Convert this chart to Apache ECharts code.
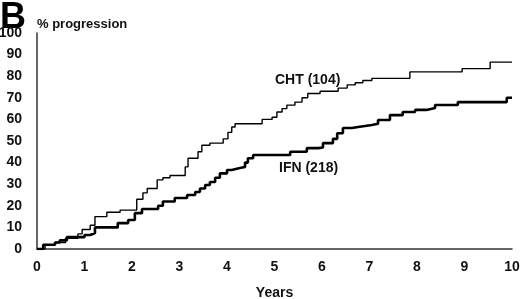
<!DOCTYPE html>
<html>
<head>
<meta charset="utf-8">
<script src="https://cdn.jsdelivr.net/npm/echarts@6/dist/echarts.min.js"></script>
<style>
  html, body { margin: 0; padding: 0; background: #fff; }
  #chart { width: 520px; height: 299px; }
</style>
</head>
<body>
<div id="chart"></div>
<script>
// years and cumulative % progression
var chtYears = [0, 0.17, 0.38, 0.6, 0.86, 0.95, 1.12, 1.22, 1.47, 1.75, 2.1, 2.23, 2.32, 2.53, 2.65, 2.8,
  3.12, 3.18, 3.39, 3.47, 3.64, 3.92, 4.02, 4.1, 4.17, 4.74, 4.95, 5.05, 5.16, 5.26, 5.43, 5.58, 5.7,
  5.96, 6.34, 6.53, 6.7, 6.86, 7.05, 7.85, 8.95, 9.54, 10]
var chtPct = [0, 2, 3, 5, 7, 9, 11, 15, 17, 18, 23, 26, 28, 32, 33, 34,
  38, 42, 45, 48, 49, 51, 54, 56.5, 58, 60, 61, 63.4, 65, 66.6, 68, 70, 72,
  73, 74.5, 76, 77, 78, 79, 82, 83.5, 86.5, 86.5]

var ifnYears = [0, 0.13, 0.38, 0.48, 0.63, 1.0, 1.12, 1.22, 1.7, 1.92, 2.06, 2.21, 2.55, 2.65, 2.9,
  3.16, 3.33, 3.43, 3.54, 3.64, 3.75, 3.85, 4.0, 4.1, 4.27, 4.38, 4.44, 4.55, 5.33, 5.68, 5.92,
  6.02, 6.23, 6.32, 6.44, 6.63, 6.76, 7.05, 7.18, 7.43, 7.7, 7.96, 8.2, 8.38, 8.86, 9.89, 10]
var ifnPct = [0, 2, 3, 4, 5.5, 6.5, 7.4, 10, 12, 13.4, 16.6, 18.5, 20, 22, 23.6,
  25, 26.4, 28, 29.6, 31, 33, 35, 36.6, 37.5, 38, 40, 42, 43.5, 45, 46.7, 47,
  49, 51, 53.6, 56, 56.5, 57.4, 58, 59.7, 62, 63.4, 64.4, 65.3, 66.7, 68, 70, 70]

var font = 'Liberation Sans, Arial, sans-serif'

function pairs(xs, ys) {
    return xs.map(function (x, i) { return [x, ys[i]] })
}

var myChart = echarts.init(document.getElementById('chart'))

var option = {
    animation: false,
    backgroundColor: '#fff',
    grid: { left: 37, right: 8, top: 33, bottom: 50, outerBoundsMode: 'none' },
    xAxis: {
        type: 'value',
        min: 0, max: 10, interval: 1,
        name: 'Years',
        nameLocation: 'middle',
        nameGap: 37,
        nameTextStyle: { color: '#111', fontSize: 14, fontWeight: 'bold', fontFamily: font },
        axisLine: { lineStyle: { color: '#333', width: 1.5 } },
        axisTick: { show: false },
        splitLine: { show: false },
        axisLabel: { color: '#111', fontSize: 14, fontWeight: 'bold', fontFamily: font, margin: 11 }
    },
    yAxis: {
        type: 'value',
        min: 0, max: 100, interval: 10,
        axisLine: { show: true, lineStyle: { color: '#333', width: 1.5 } },
        axisTick: { show: false },
        splitLine: { show: false },
        axisLabel: { color: '#111', fontSize: 14, fontWeight: 'bold', fontFamily: font, margin: 15 }
    },
    graphic: [
        { type: 'text', left: 0, top: 0, style: { text: 'B', fill: '#000', font: 'bold 36px ' + font } },
        { type: 'text', left: 37, top: 18, style: { text: '% progression', fill: '#111', font: 'bold 13px ' + font } },
        { type: 'text', left: 275, top: 73, style: { text: 'CHT (104)', fill: '#111', font: 'bold 14px ' + font } },
        { type: 'text', left: 279, top: 161, style: { text: 'IFN (218)', fill: '#111', font: 'bold 14px ' + font } }
    ],
    series: [
        {
            name: 'CHT',
            type: 'line',
            step: 'end',
            symbol: 'none',
            lineStyle: { color: '#000', width: 1.4 },
            data: pairs(chtYears, chtPct)
        },
        {
            name: 'IFN',
            type: 'line',
            step: 'end',
            symbol: 'none',
            lineStyle: { color: '#000', width: 2.6 },
            data: pairs(ifnYears, ifnPct)
        }
    ]
}

myChart.setOption(option)
</script>
</body>
</html>
